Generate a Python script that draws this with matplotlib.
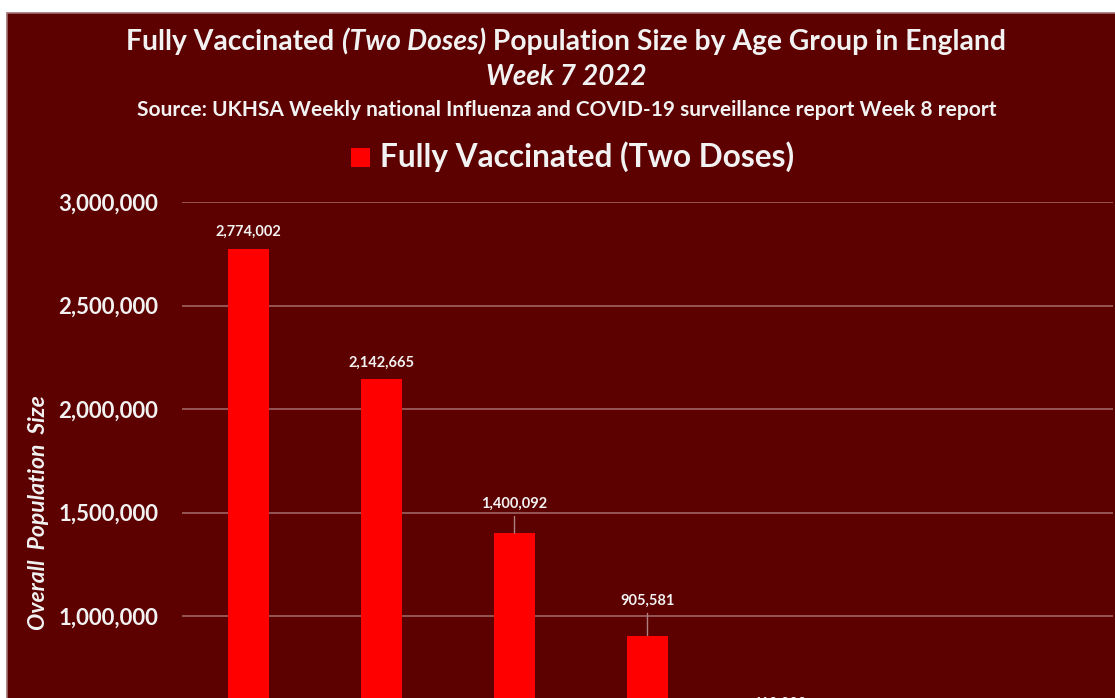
import matplotlib.pyplot as plt
from matplotlib.patches import Rectangle
from matplotlib.ticker import FuncFormatter

# Datos (las etiquetas de edad quedan fuera del recorte)
valores = [2774002, 2142665, 1400092, 905581, 410000]
etiquetas = ['2,774,002', '2,142,665', '1,400,092', '905,581', '410,000']
# desplazamiento vertical de cada etiqueta (puntos) - algunas movidas a mano como en Excel
offsets = [7, 7, 16, 20, 20]

fondo = '#5c0000'
rojo = '#ff0000'
texto = '#f2f2f2'
rejilla = '#9a5c5c'

plt.rcParams['font.family'] = ['Lato', 'DejaVu Sans']

fig = plt.figure(figsize=(11.15, 6.98), dpi=100, facecolor='white')

# area del grafico (recortada por abajo y a la derecha)
fig.patches.append(Rectangle((7 / 1115, -0.1), 1.2, 1.1 - 13 / 698, transform=fig.transFigure,
                             facecolor=fondo, edgecolor='#a07070', linewidth=1.2, zorder=-5))

ax = fig.add_axes([182 / 1115, (698 - 823) / 698, (1113 - 182) / 1115, (823 - 202) / 698])
ax.set_facecolor('none')
ax.set_zorder(2)

x = list(range(len(valores)))
ax.bar(x, valores, width=0.31, color=rojo, zorder=3)

ax.set_xlim(-0.5, 6.5)
ax.set_ylim(0, 3000000)
ax.set_yticks([0, 500000, 1000000, 1500000, 2000000, 2500000, 3000000])
ax.yaxis.set_major_formatter(FuncFormatter(lambda v, p: f'{int(v):,}'))
ax.tick_params(axis='y', length=0, pad=17, labelsize=16, labelcolor=texto)
for t in ax.get_yticklabels():
    t.set_fontweight('bold')
ax.set_xticks([])
ax.grid(axis='y', color=rejilla, linewidth=1.3, zorder=1)
for s in ax.spines.values():
    s.set_visible(False)

ax.set_ylabel('Overall  Population  Size', fontsize=16.5, fontweight='bold', style='italic',
              color=texto, labelpad=7)

for xi, v, lab, off in zip(x, valores, etiquetas, offsets):
    flecha = dict(arrowstyle='-', color='#b08080', lw=1, shrinkA=2, shrinkB=0) if off > 12 else None
    ax.annotate(lab, xy=(xi, v), xytext=(0, off), textcoords='offset points',
                ha='center', va='bottom', fontsize=10.5, fontweight='bold', color=texto,
                arrowprops=flecha, annotation_clip=False)

# titulo en tres trozos (parte central en cursiva)
trozos = [('Fully Vaccinated ', 'normal'), ('(Two Doses)', 'italic'),
          (' Population Size by Age Group in England', 'normal')]
fig.canvas.draw()
rend = fig.canvas.get_renderer()
objs = []
for s, st in trozos:
    t = fig.text(0, 1 - 42 / 698, s, ha='left', va='center', fontsize=20.3, fontweight='bold',
                 style=st, color=texto)
    objs.append(t)
anchos = [t.get_window_extent(rend).width for t in objs]
x0 = 566 - sum(anchos) / 2
for t, w in zip(objs, anchos):
    t.set_x(x0 / 1115)
    x0 += w

fig.text(566 / 1115, 1 - 77 / 698, 'Week 7 2022', ha='center', va='center', fontsize=20,
         fontweight='bold', style='italic', color=texto)
fig.text(567 / 1115, 1 - 110 / 698,
         'Source: UKHSA Weekly national Influenza and COVID-19 surveillance report Week 8 report',
         ha='center', va='center', fontsize=15, fontweight='bold', color=texto)

# leyenda
fig.patches.append(Rectangle((351 / 1115, 1 - 167 / 698), 19 / 1115, 19 / 698,
                             transform=fig.transFigure, facecolor=rojo, edgecolor='none'))
fig.text(380 / 1115, 1 - 157 / 698, 'Fully Vaccinated (Two Doses)', ha='left', va='center',
         fontsize=22.8, fontweight='bold', color=texto)

fig.savefig('out.png', dpi=100, facecolor=fig.get_facecolor())
